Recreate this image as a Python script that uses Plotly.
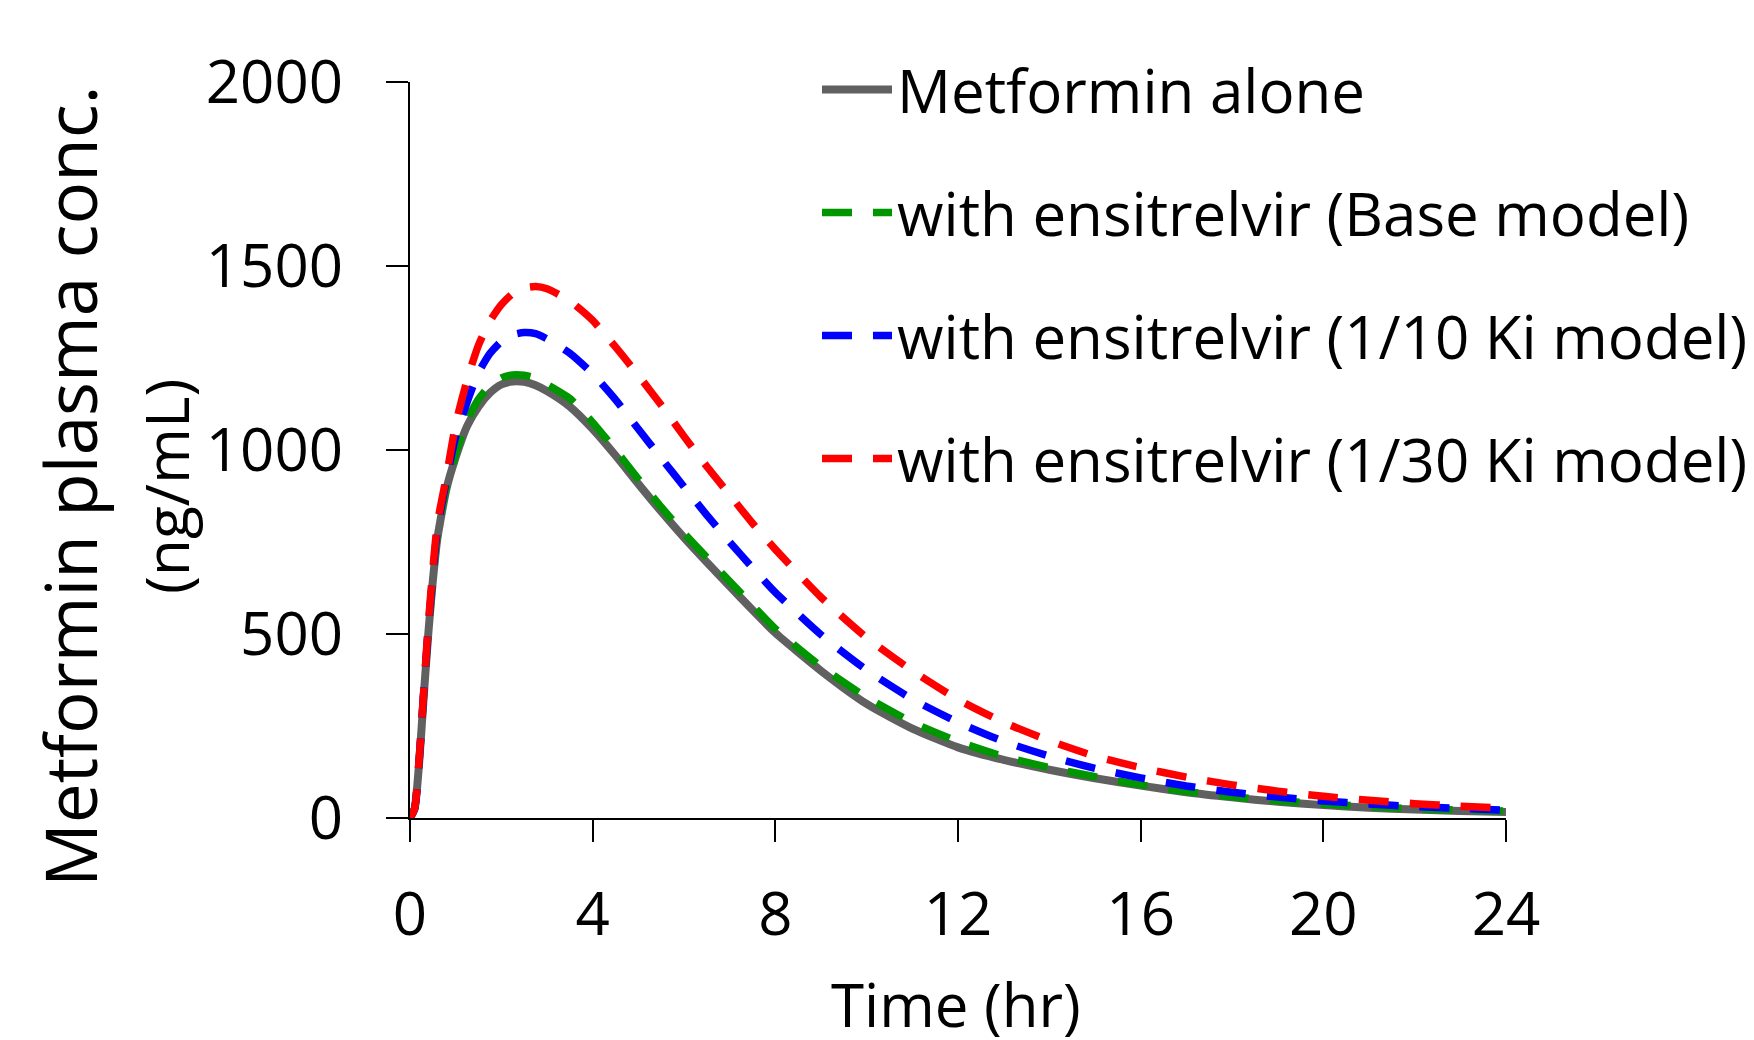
import plotly.graph_objects as go

time_hr = [0, 0.1, 0.2, 0.3, 0.4, 0.5, 0.6, 0.8, 1.0, 1.25, 1.5, 1.75, 2.0, 2.25, 2.5, 2.75, 3.0,
           3.5, 4.0, 4.5, 5.0, 5.5, 6.0, 6.5, 7.0, 7.5, 8.0, 9.0, 10.0, 11.0, 12.0, 13.0, 14.0,
           15.0, 16.0, 17.0, 18.0, 19.0, 20.0, 21.0, 22.0, 23.0, 24.0]

metformin_alone = [0, 25, 150, 330, 500, 645, 760, 895, 980, 1065, 1118, 1155, 1178, 1186, 1185, 1176, 1160,
                   1118, 1057, 985, 908, 833, 762, 695, 630, 565, 503, 400, 310, 243, 192, 158, 131,
                   108, 88, 70, 56, 44, 35, 28, 23, 19, 16]

base_model = [0, 25, 150, 335, 505, 650, 770, 900, 990, 1080, 1138, 1175, 1196, 1204, 1203, 1195, 1178,
              1140, 1075, 1000, 921, 845, 774, 708, 643, 578, 514, 412, 328, 260, 208, 167, 137,
              112, 90, 72, 58, 47, 38, 31, 25, 22, 19]

ki10_model = [0, 25, 155, 340, 515, 660, 785, 920, 1035, 1130, 1210, 1262, 1295, 1313, 1319, 1316, 1302,
              1263, 1207, 1137, 1057, 978, 900, 823, 750, 680, 613, 498, 402, 323, 260, 208, 168,
              135, 109, 87, 70, 57, 46, 38, 31, 26, 21]

ki30_model = [0, 25, 160, 345, 525, 675, 800, 930, 1070, 1190, 1285, 1350, 1395, 1425, 1440, 1444, 1438,
              1405, 1352, 1280, 1203, 1122, 1037, 955, 878, 801, 730, 600, 490, 400, 322, 260, 210,
              168, 137, 111, 90, 73, 59, 48, 39, 32, 27]

series_names = ["Metformin alone",
                "with ensitrelvir (Base model)",
                "with ensitrelvir (1/10 Ki model)",
                "with ensitrelvir (1/30 Ki model)"]
series_values = [metformin_alone, base_model, ki10_model, ki30_model]
series_colors = ["#606060", "#009600", "#0000FF", "#FF0000"]
series_dash = ["solid", "30px,21px", "30px,21px", "30px,21px"]
series_width = [8, 7.5, 7.5, 7.5]

x_ticks = [0, 4, 8, 12, 16, 20, 24]
y_ticks = [0, 500, 1000, 1500, 2000]

FONT = "Open Sans, Noto Sans, DejaVu Sans, sans-serif"

fig = go.Figure()
for i, (name, vals, col, dash, lw) in enumerate(zip(series_names, series_values, series_colors,
                                                    series_dash, series_width)):
    fig.add_trace(go.Scatter(
        x=time_hr, y=vals, name=name, mode="lines",
        line=dict(color=col, width=lw, dash=dash, shape="spline", smoothing=0.6),
        legendgroup=f"g{i}",
    ))

# page offset (body margin) compensation
OFF = 8
W, H = 1738, 1040
PL, PR, PT, PB = 410, 1506, 82, 818          # plot area in page pixels
L = PL - OFF
T = PT - OFF
R = OFF + W - PR
B = OFF + H - PB
pw, ph = PR - PL, PB - PT


def px(xp):
    return (xp - PL) / pw


def py(yp):
    return (PB - yp) / ph


fig.update_layout(
    width=W, height=H,
    margin=dict(l=L, r=R, t=T, b=B, autoexpand=False),
    paper_bgcolor="white", plot_bgcolor="white",
    font=dict(family=FONT, color="black", size=60),
    showlegend=True,
    legend=dict(
        x=px(817), xanchor="left",
        y=py(44), yanchor="top",
        font=dict(family=FONT, size=60, color="black"),
        bgcolor="rgba(0,0,0,0)",
        traceorder="grouped",
        tracegroupgap=42,
        itemwidth=70,
    ),
    xaxis=dict(
        range=[0, 24], tickvals=x_ticks, ticktext=[str(v) for v in x_ticks],
        showgrid=False, zeroline=False, showline=True, linecolor="black", linewidth=2,
        ticks="outside", ticklen=22, tickwidth=2, tickcolor="black",
        tickfont=dict(family=FONT, size=60, color="black"),
        ticklabelstandoff=21,
    ),
    yaxis=dict(
        range=[0, 2000], tickvals=y_ticks, ticktext=[str(v) for v in y_ticks],
        showgrid=False, zeroline=False, showline=True, linecolor="black", linewidth=2,
        ticks="outside", ticklen=22, tickwidth=2, tickcolor="black",
        tickfont=dict(family=FONT, size=60, color="black"),
        ticklabelstandoff=31,
    ),
    annotations=[
        dict(text="Time (hr)", xref="paper", yref="paper",
             x=px(956), y=py(1004), xanchor="center", yanchor="middle",
             showarrow=False, font=dict(family=FONT, size=60, color="black")),
        dict(text="Metformin plasma conc.", xref="paper", yref="paper",
             x=px(69), y=py(486), xanchor="center", yanchor="middle",
             textangle=-90, showarrow=False, font=dict(family=FONT, size=71, color="black")),
        dict(text="(ng/mL)", xref="paper", yref="paper",
             x=px(165), y=py(487), xanchor="center", yanchor="middle",
             textangle=-90, showarrow=False, font=dict(family=FONT, size=60.5, color="black")),
    ],
)

fig.write_html("out.html")
